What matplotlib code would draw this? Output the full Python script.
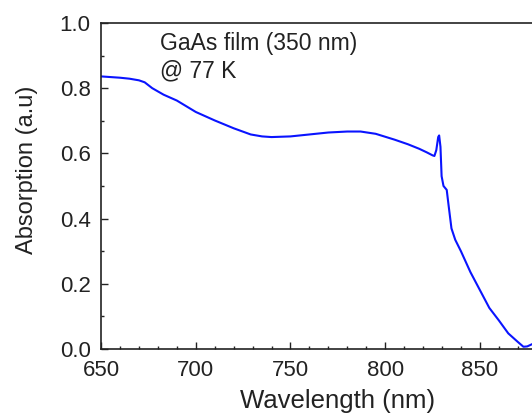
import numpy as np
import matplotlib.pyplot as plt
from matplotlib.ticker import FixedLocator

# absorption spectrum
wavelength = [650, 655, 660, 665, 670, 673, 677, 683, 690, 700, 710, 720, 729, 735,
              740, 750, 760, 770, 780, 787, 795, 805, 812, 818, 822, 825, 826, 827,
              828, 828.5, 829.2, 829.8, 830.8, 832.5, 833.5, 835, 837, 840, 845,
              850, 855, 860, 865, 870, 873, 875, 878, 880]
absorption = [0.836, 0.834, 0.832, 0.829, 0.824, 0.818, 0.800, 0.780, 0.762, 0.727,
              0.701, 0.677, 0.658, 0.652, 0.650, 0.652, 0.658, 0.664, 0.667, 0.667,
              0.660, 0.642, 0.628, 0.614, 0.603, 0.594, 0.592, 0.610, 0.650, 0.655,
              0.620, 0.530, 0.500, 0.488, 0.440, 0.370, 0.335, 0.300, 0.236, 0.181,
              0.126, 0.088, 0.048, 0.022, 0.007, 0.008, 0.016, 0.020]

x_major = [650, 700, 750, 800, 850]
x_minor = list(range(660, 890, 10))
y_major = [0.0, 0.2, 0.4, 0.6, 0.8, 1.0]
y_minor = [0.1, 0.3, 0.5, 0.7, 0.9]

plt.rcParams['font.family'] = ['Liberation Sans', 'DejaVu Sans']
ink = '#222222'

fig = plt.figure(figsize=(5.32, 4.17), dpi=100)
# axes run past the right edge, as in the cropped original
ax = fig.add_axes([0.190, 0.163, 0.890, 0.782])

ax.plot(wavelength, absorption, color='#0a14ff', lw=1.5)

ax.set_xlim(650, 900)
ax.set_ylim(0, 1.0)
ax.xaxis.set_major_locator(FixedLocator(x_major))
ax.xaxis.set_minor_locator(FixedLocator(x_minor))
ax.yaxis.set_major_locator(FixedLocator(y_major))
ax.yaxis.set_minor_locator(FixedLocator(y_minor))
ax.yaxis.set_major_formatter(plt.FormatStrFormatter('%.1f'))

ax.tick_params(which='both', direction='in', labelsize=16, width=1.0, colors=ink)
ax.tick_params(which='major', length=5)
ax.tick_params(which='minor', length=2.4)
ax.tick_params(axis='x', pad=8)
ax.tick_params(axis='y', pad=7.5)
for s in ax.spines.values():
    s.set_linewidth(1.2)
    s.set_color(ink)

ax.set_xlabel('Wavelength (nm)', fontsize=18.5, labelpad=6, color=ink)
ax.set_ylabel('Absorption (a.u)', fontsize=17, color=ink)
ax.yaxis.set_label_coords(-0.133, 0.549)

ax.text(681.2, 0.917, 'GaAs film (350 nm)', fontsize=16.5, va='baseline', color=ink)
ax.text(681.2, 0.832, '@ 77 K', fontsize=16.5, va='baseline', color=ink)

fig.savefig('out.png', dpi=100)
